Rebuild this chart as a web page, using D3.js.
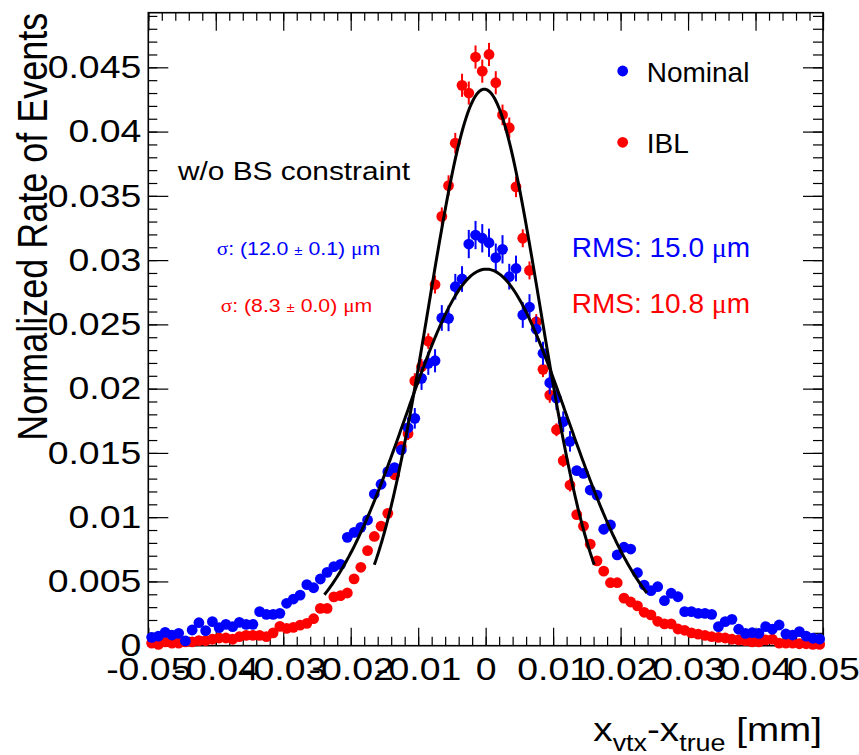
<!DOCTYPE html>
<html>
<head>
<meta charset="utf-8">
<script src="https://cdn.jsdelivr.net/npm/d3@7"></script>
<style>
  body { margin: 0; background: #fff; }
  text { font-family: "Liberation Sans", Arial, Helvetica, sans-serif; }
</style>
</head>
<body>
<svg id="chart"></svg>
<script>
// histogram: 100 bins of 0.001 mm from -0.05 to 0.05
const binLo = -0.05;
const binWidth = 0.001;

const nominal = [
  0.00065, 0.00075, 0.00104, 0.00083, 0.00096, 0.00037, 0.00122, 0.00179, 0.00117, 0.00187,
  0.00140, 0.00166, 0.00148, 0.00182, 0.00166, 0.00166, 0.00265, 0.00244, 0.00244, 0.00252,
  0.00330, 0.00363, 0.00394, 0.00475, 0.00451, 0.00519, 0.00571, 0.00615, 0.00633, 0.00843,
  0.00882, 0.00921, 0.00978, 0.01180, 0.01256, 0.01354, 0.01385, 0.01523, 0.01696, 0.01769,
  0.02080, 0.02197, 0.02217, 0.02550, 0.02547, 0.02793, 0.02853, 0.03125, 0.03195, 0.03170,
  0.03135, 0.03019, 0.03084, 0.02871, 0.02935, 0.02573, 0.02635, 0.02462, 0.02275, 0.02046,
  0.01925, 0.01743, 0.01590, 0.01362, 0.01341, 0.01211, 0.01172, 0.00906, 0.00939, 0.00706,
  0.00766, 0.00752, 0.00568, 0.00472, 0.00428, 0.00459, 0.00350, 0.00408, 0.00381, 0.00265,
  0.00265, 0.00252, 0.00252, 0.00244, 0.00148, 0.00187, 0.00205, 0.00128, 0.00096, 0.00101,
  0.00096, 0.00148, 0.00128, 0.00161, 0.00091, 0.00083, 0.00109, 0.00075, 0.00058, 0.00052
];

const ibl = [
  0.0002, 0.0001, 0.0003, 0.0002, 0.0002, 0.0003, 0.0003, 0.0004, 0.0004, 0.0005,
  0.0006, 0.0006, 0.0005, 0.0007, 0.0008, 0.0008, 0.0008, 0.0007, 0.0010, 0.0015,
  0.00135, 0.00143, 0.0016, 0.00174, 0.0021, 0.0029, 0.0029, 0.0038, 0.0039, 0.0041,
  0.0052, 0.0061, 0.0074, 0.0085, 0.0093, 0.0103, 0.0133, 0.0155, 0.0165, 0.0206,
  0.0217, 0.0237, 0.0281, 0.0334, 0.0358, 0.0391, 0.0436, 0.0430, 0.0458, 0.0447,
  0.0460, 0.0438, 0.0413, 0.0403, 0.0357, 0.0317, 0.0292, 0.0252, 0.0215, 0.0195,
  0.0168, 0.0144, 0.0125, 0.0102, 0.0093, 0.0079, 0.0066, 0.0058, 0.0049, 0.0049,
  0.0037, 0.0034, 0.0031, 0.0026, 0.0024, 0.0019, 0.0017, 0.0017, 0.0013, 0.0012,
  0.0010, 0.0009, 0.0008, 0.0007, 0.00065, 0.0006, 0.0005, 0.00045, 0.0004, 0.0003,
  0.0003, 0.00045, 0.0005, 0.0002, 0.0002, 0.0002, 0.00015, 0.00015, 0.0001, 0.0001
];

// error bars only stick out of the markers in the core, bins 38..62
const errStart = 38;
const nominalErr = [
  0.0008, 0.0008, 0.0009, 0.0009, 0.0009, 0.0010, 0.0010, 0.0010, 0.0010, 0.0011,
  0.0011, 0.0011, 0.0011, 0.0011, 0.0011, 0.0010, 0.0010, 0.0010, 0.0010, 0.0010,
  0.0009, 0.0009, 0.0009, 0.0008, 0.0008
];
const iblErr = [
  0.0005, 0.0006, 0.0006, 0.0006, 0.0007, 0.0007, 0.0008, 0.0008, 0.0009, 0.0009,
  0.0009, 0.0009, 0.0009, 0.0009, 0.0008, 0.0008, 0.0008, 0.0007, 0.0007, 0.0006,
  0.0006, 0.0006, 0.0005, 0.0005, 0.0005
];

// gaussian fit results
const nominalFit = {amp: 0.0293, mean: 0.0001, sigma: 0.0120, lo: -0.0239, hi: 0.0239};
const iblFit = {amp: 0.0433, mean: -0.0002, sigma: 0.0083, lo: -0.0165, hi: 0.0161};

const xTicks = [-0.05, -0.04, -0.03, -0.02, -0.01, 0, 0.01, 0.02, 0.03, 0.04, 0.05];
const xTickLabels = ["-0.05", "-0.04", "-0.03", "-0.02", "-0.01", "0", "0.01", "0.02", "0.03", "0.04", "0.05"];
const yTicks = [0, 0.005, 0.01, 0.015, 0.02, 0.025, 0.03, 0.035, 0.04, 0.045];
const yTickLabels = ["0", "0.005", "0.01", "0.015", "0.02", "0.025", "0.03", "0.035", "0.04", "0.045"];

const BLUE = "#0000ff", RED = "#ff0000";
const W = 859, H = 755;
const margin = {top: 12.7, right: 36, bottom: 109.3, left: 148.3};
const width = W - margin.left - margin.right;
const height = H - margin.top - margin.bottom;
const stretch = "scale(1.17,1)"; // root latex text renders wide

const svg = d3.select("#chart").attr("width", W).attr("height", H);
const g = svg.append("g").attr("transform", `translate(${margin.left},${margin.top})`);

const x = d3.scaleLinear().domain([-0.05, 0.05]).range([0, width]);
const y = d3.scaleLinear().domain([0, 0.04925]).range([height, 0]);

const xMinor = d3.range(0, 51).map(k => -0.05 + k * 0.002);
const yMinor = d3.range(0, 50).map(k => k * 0.001);

// ticks on all four sides, pointing inward
function ticks(axis, transform, values, size) {
  const a = g.append("g")
    .attr("transform", transform)
    .call(axis.tickValues(values).tickSize(size).tickSizeOuter(0).tickFormat(""));
  a.select(".domain").remove();
  a.selectAll("line").attr("stroke", "#000").attr("stroke-width", 1.2);
  return a;
}
ticks(d3.axisBottom(x), `translate(0,${height})`, xMinor, -9);
ticks(d3.axisTop(x), "translate(0,0)", xMinor, -8);
ticks(d3.axisTop(x), "translate(0,0)", xTicks, -18);
ticks(d3.axisLeft(y), "translate(0,0)", yMinor, -9);
ticks(d3.axisRight(y), `translate(${width},0)`, yMinor, -10);
ticks(d3.axisRight(y), `translate(${width},0)`, yTicks, -20);

const xAxis = g.append("g")
  .attr("transform", `translate(0,${height})`)
  .call(d3.axisBottom(x).tickValues(xTicks).tickSize(-18).tickSizeOuter(0).tickPadding(12)
    .tickFormat(d => xTickLabels[xTicks.indexOf(d)]));
xAxis.select(".domain").remove();
xAxis.attr("font-family", null).attr("font-size", 32);
xAxis.selectAll("line").attr("stroke", "#000").attr("stroke-width", 1.2);
xAxis.selectAll("text").attr("fill", "#000").attr("transform", stretch);

const yAxis = g.append("g")
  .call(d3.axisLeft(y).tickValues(yTicks).tickSize(-20).tickSizeOuter(0).tickPadding(6)
    .tickFormat(d => yTickLabels[yTicks.indexOf(d)]));
yAxis.select(".domain").remove();
yAxis.attr("font-family", null).attr("font-size", 32);
yAxis.selectAll("line").attr("stroke", "#000").attr("stroke-width", 1.2);
yAxis.selectAll("text").attr("fill", "#000").attr("transform", stretch);

g.append("rect")
  .attr("width", width).attr("height", height)
  .attr("fill", "none").attr("stroke", "#000").attr("stroke-width", 1.6);

// axis titles
const xTitle = svg.append("text")
  .attr("transform", `translate(${margin.left + width - 1},741) ${stretch}`)
  .attr("text-anchor", "end").attr("font-size", 33);
xTitle.append("tspan").text("x");
xTitle.append("tspan").attr("font-size", 23).attr("dy", 10).text("vtx");
xTitle.append("tspan").attr("dy", -10).text("-x");
xTitle.append("tspan").attr("font-size", 23).attr("dy", 10).text("true");
xTitle.append("tspan").attr("dy", -10).text(" [mm]");

svg.append("text")
  .attr("transform", `translate(47,${margin.top}) ${stretch} rotate(-90)`)
  .attr("text-anchor", "end").attr("font-size", 36)
  .text("Normalized Rate of Events");

// data points
function drawSeries(vals, errs, color) {
  const pts = vals.map((v, i) => ({c: binLo + (i + 0.5) * binWidth, v: v, i: i}));
  g.append("g").selectAll("line")
    .data(pts.filter(d => d.i >= errStart && d.i < errStart + errs.length))
    .join("line")
    .attr("x1", d => x(d.c)).attr("x2", d => x(d.c))
    .attr("y1", d => y(d.v - errs[d.i - errStart]))
    .attr("y2", d => y(d.v + errs[d.i - errStart]))
    .attr("stroke", color).attr("stroke-width", 2);
  g.append("g").selectAll("circle")
    .data(pts)
    .join("circle")
    .attr("cx", d => x(d.c)).attr("cy", d => y(d.v))
    .attr("r", 5.4).attr("fill", color);
}
drawSeries(ibl, iblErr, RED);
drawSeries(nominal, nominalErr, BLUE);

function drawFit(f) {
  const xs = d3.range(0, 201).map(k => f.lo + (f.hi - f.lo) * k / 200);
  const line = d3.line()
    .x(d => x(d))
    .y(d => y(f.amp * Math.exp(-0.5 * Math.pow((d - f.mean) / f.sigma, 2))));
  g.append("path").datum(xs)
    .attr("d", line).attr("fill", "none")
    .attr("stroke", "#000").attr("stroke-width", 3);
}
drawFit(nominalFit);
drawFit(iblFit);

// legend
const legend = [{name: "Nominal", color: BLUE, y: 71}, {name: "IBL", color: RED, y: 142.3}];
legend.forEach(l => {
  svg.append("circle").attr("cx", 622.7).attr("cy", l.y).attr("r", 5.4).attr("fill", l.color);
  svg.append("text").attr("x", 646.7).attr("y", l.y + 10.5)
    .attr("font-size", 28).attr("fill", "#000").text(l.name);
});

// annotations
svg.append("text")
  .attr("transform", `translate(178,180) ${stretch}`)
  .attr("font-size", 25.5).attr("fill", "#000")
  .text("w/o BS constraint");

function sigmaLabel(px, py, color, val, err) {
  const t = svg.append("text")
    .attr("transform", `translate(${px},${py}) scale(1.15,1)`)
    .attr("font-size", 18.5).attr("fill", color);
  t.append("tspan").attr("font-family", "Liberation Serif, serif").text("σ");
  t.append("tspan").text(": (" + val + " ");
  t.append("tspan").attr("font-size", 13).text("±");
  t.append("tspan").text(" " + err + ") ");
  t.append("tspan").attr("font-family", "Liberation Serif, serif").text("μ");
  t.append("tspan").text("m");
}
sigmaLabel(216.7, 255, BLUE, "12.0", "0.1");
sigmaLabel(220.7, 311.7, RED, "8.3", "0.0");

function rmsLabel(px, py, color, val) {
  const t = svg.append("text").attr("x", px).attr("y", py)
    .attr("font-size", 28).attr("fill", color);
  t.append("tspan").text("RMS: " + val + " ");
  t.append("tspan").attr("font-family", "Liberation Serif, serif").text("μ");
  t.append("tspan").text("m");
}
rmsLabel(571.7, 256.7, BLUE, "15.0");
rmsLabel(571.7, 313.3, RED, "10.8");
</script>
</body>
</html>
